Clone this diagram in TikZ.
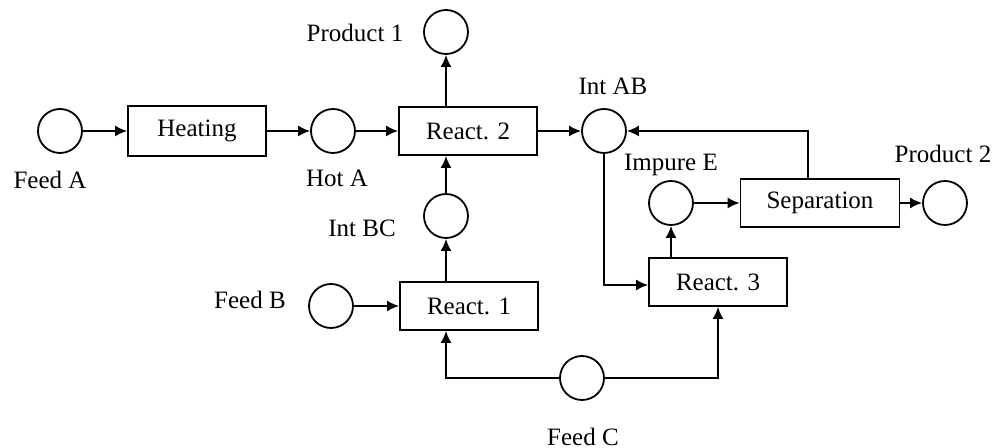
\documentclass[tikz,border=0pt]{standalone}
\usepackage{fontspec}
\setmainfont{Liberation Serif}
\usetikzlibrary{arrows.meta, positioning, calc}

\begin{document}
\begin{tikzpicture}[x=0.5pt, y=-0.5pt,
    state/.style={circle, draw, line width=0.9pt, minimum size=22pt, inner sep=0pt},
    task/.style={rectangle, draw, line width=0.9pt, minimum width=69pt, minimum height=24pt,
        font=\fontsize{12.5}{14}\selectfont},
    lbl/.style={font=\fontsize{12.5}{14}\selectfont},
    flow/.style={-{Latex[length=6pt, width=5.5pt]}, line width=0.9pt},
]
    \useasboundingbox (0,0) rectangle (998,448);

    % states
    \node[state] (feedA) at (60,131) {};
    \node[state] (hotA) at (333,131) {};
    \node[state] (prod1) at (446,32) {};
    \node[state] (intAB) at (604,131) {};
    \node[state] (intBC) at (446,216) {};
    \node[state] (feedB) at (331,306) {};
    \node[state] (feedC) at (582,378) {};
    \node[state] (impureE) at (671,203) {};
    \node[state] (prod2) at (945,203) {};

    \node[lbl] (feedAlbl) at (50,180) {Feed A};
    \node[lbl] (hotAlbl) at (337,178) {Hot A};
    \node[lbl] (prod1lbl) at (355,33) {Product 1};
    \node[lbl] (intABlbl) at (613,86) {Int AB};
    \node[lbl] (intBClbl) at (362,228) {Int BC};
    \node[lbl] (feedBlbl) at (250,300) {Feed B};
    \node[lbl] (feedClbl) at (583,437) {Feed C};
    \node[lbl] (impureElbl) at (671,165) {Impure E};
    \node[lbl] (prod2lbl) at (943,154) {Product 2};

    % tasks
    \node[task, minimum height=25pt] (heating) at (197,131) {Heating};
    \node[task] (react2) at (468,131) {React. 2};
    \node[task] (react1) at (469,306) {React. 1};
    \node[task] (react3) at (718,282) {React. 3};
    \node[task, minimum width=79.5pt] (separation) at (820,203) {Separation};

    % flows
    \draw[flow] (feedA) -- (heating);
    \draw[flow] (heating) -- (hotA);
    \draw[flow] (hotA) -- (react2);
    \draw[flow] (react2) -- (intAB);
    \draw[flow] (react2.north -| prod1) -- (prod1);
    \draw[flow] (intBC) -- (intBC |- react2.south);
    \draw[flow] (react1.north -| intBC) -- (intBC);
    \draw[flow] (feedB) -- (react1);
    \draw[flow] (feedC.west) -| (intBC |- react1.south);
    \draw[flow] (feedC.east) -| (react3.south);
    \draw[flow] (intAB.south) |- ([yshift=-1.5pt]react3.west);
    \draw[flow] (react3.north -| impureE) -- (impureE);
    \draw[flow] (impureE) -- (separation);
    \draw[flow] (separation) -- (prod2);
    \draw[flow] ([xshift=-6pt]separation.north) |- (intAB.east);
\end{tikzpicture}
\end{document}
